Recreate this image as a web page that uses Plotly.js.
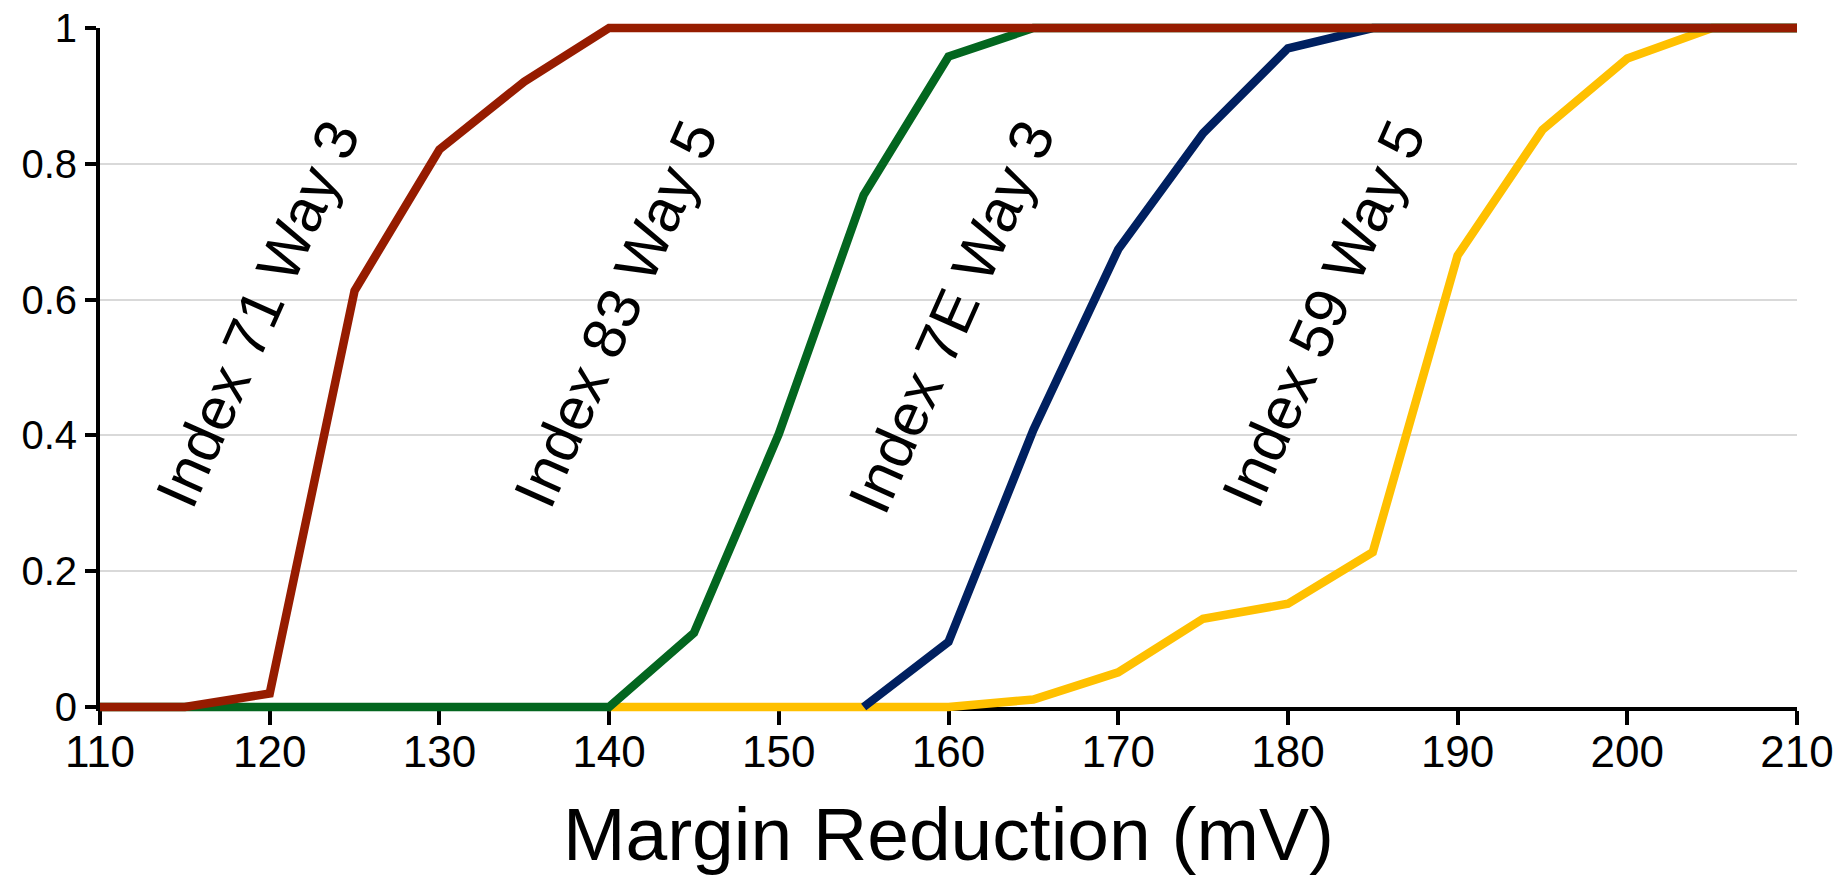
<!DOCTYPE html>
<html>
<head>
<meta charset="utf-8">
<script src="https://cdn.plot.ly/plotly-3.0.1.min.js"></script>
<style>html,body{margin:0;padding:0;background:#fff;}#chart{width:1840px;height:882px;}</style>
</head>
<body>
<div id="chart"></div>
<script>
// Margin reduction (mV) sample points
const xRed    = [110,115,120,125,130,135,140,145,150,155,160,165,170,175,180,185,190,195,200,205,210];
const yRed    = [0,0,0.02,0.613,0.821,0.921,1,1,1,1,1,1,1,1,1,1,1,1,1,1,1];
const xGreen  = [110,115,120,125,130,135,140,145,150,155,160,165,170,175,180,185,190,195,200,205,210];
const yGreen  = [0,0,0,0,0,0,0,0.109,0.402,0.754,0.958,1,1,1,1,1,1,1,1,1,1];
const xBlue   = [155,160,165,170,175,180,185,190,195,200,205,210];
const yBlue   = [0,0.096,0.408,0.674,0.845,0.970,1,1,1,1,1,1];
const xYellow = [140,145,150,155,160,165,170,175,180,185,190,195,200,205,210];
const yYellow = [0,0,0,0,0,0.011,0.051,0.130,0.152,0.228,0.665,0.850,0.955,1,1];

const seriesNames = ["Index 59 Way 5","Index 7E Way 3","Index 83 Way 5","Index 71 Way 3"];
const xTickVals = [110,120,130,140,150,160,170,180,190,200,210];
const yTickVals = [0,0.2,0.4,0.6,0.8,1];
const yTickText = ["0","0.2","0.4","0.6","0.8","1"];
const xTitle = "Margin Reduction (mV)";

const colors = {red:"#961C00", green:"#03661F", blue:"#002060", yellow:"#FFC000"};
const LW = 8.5;
const FONT = "Liberation Sans, Arial, sans-serif";

// geometry helpers (pad the trace axes so thick lines at 0 and 1 are not clipped)
const plotH = 882 - 20 - 167;
const padPx = 8;
const pad = padPx / (plotH - 2*padPx);

const traces = [
  {x:xYellow, y:yYellow, name:seriesNames[0], color:colors.yellow},
  {x:xBlue,   y:yBlue,   name:seriesNames[1], color:colors.blue},
  {x:xGreen,  y:yGreen,  name:seriesNames[2], color:colors.green},
  {x:xRed,    y:yRed,    name:seriesNames[3], color:colors.red}
].map(s => ({
  type:"scatter", mode:"lines", x:s.x, y:s.y, name:s.name,
  xaxis:"x2", yaxis:"y2",
  line:{color:s.color, width:LW, shape:"linear"},
  hoverinfo:"x+y+name"
}));

const annPos = [
  {x:119.3, y:0.58, text:seriesNames[3]},
  {x:140.4, y:0.58, text:seriesNames[2]},
  {x:160.2, y:0.575, text:seriesNames[1]},
  {x:182.1, y:0.58, text:seriesNames[0]}
];

const layout = {
  width:1840, height:882,
  paper_bgcolor:"#ffffff", plot_bgcolor:"rgba(0,0,0,0)",
  margin:{l:100, r:43, t:20, b:167},
  showlegend:false,
  font:{family:FONT, color:"#000"},
  xaxis:{
    domain:[0,1], range:[110,210], anchor:"y",
    tickvals:xTickVals, ticktext:xTickVals.map(String),
    ticks:"outside", ticklen:14, tickwidth:4, tickcolor:"#000",
    ticklabelstandoff:-11,
    showline:true, linecolor:"#000", linewidth:4,
    showgrid:false, zeroline:false,
    tickfont:{family:FONT, size:44, color:"#000"},
    title:{text:xTitle, font:{family:FONT, size:75, color:"#000"}, standoff:34},
    fixedrange:true
  },
  yaxis:{
    domain:[padPx/plotH, 1 - padPx/plotH], range:[0,1], anchor:"x",
    tickvals:yTickVals, ticktext:yTickText,
    ticks:"outside", ticklen:11, tickwidth:4, tickcolor:"#000",
    showline:true, linecolor:"#000", linewidth:4,
    showgrid:true, gridcolor:"#D9D9D9", gridwidth:2,
    zeroline:false,
    tickfont:{family:FONT, size:40, color:"#000"},
    fixedrange:true
  },
  xaxis2:{domain:[0,1], range:[110,210], anchor:"y2", visible:false, fixedrange:true},
  yaxis2:{domain:[0,1], range:[-pad, 1+pad], anchor:"x2", visible:false, fixedrange:true},
  annotations: annPos.map(a => ({
    xref:"x", yref:"y", x:a.x, y:a.y, text:a.text, showarrow:false,
    textangle:-66, font:{family:FONT, size:60, color:"#000"},
    xanchor:"center", yanchor:"middle"
  }))
};

Plotly.newPlot("chart", traces, layout, {displayModeBar:false, staticPlot:true});
</script>
</body>
</html>
